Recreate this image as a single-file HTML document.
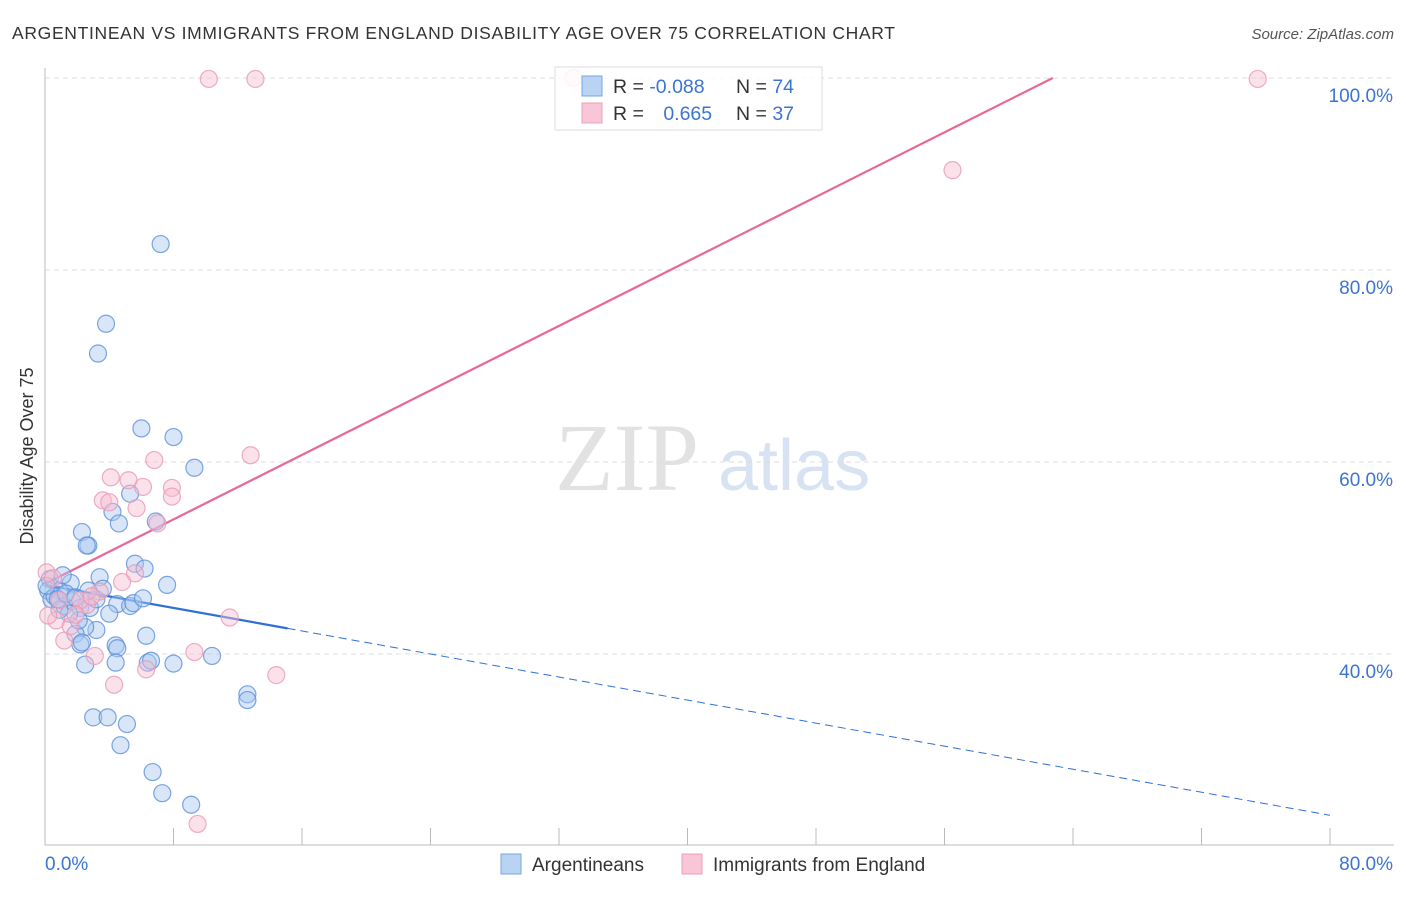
<!DOCTYPE html>
<html><head><meta charset="utf-8"><style>
body{margin:0;background:#fff;font-family:"Liberation Sans",sans-serif}
svg text{font-family:"Liberation Sans",sans-serif}
</style></head><body>
<svg width="1406" height="892" viewBox="0 0 1406 892" id="chart">
<text x="12" y="39" font-size="17.5" fill="#333" textLength="883" lengthAdjust="spacing">ARGENTINEAN VS IMMIGRANTS FROM ENGLAND DISABILITY AGE OVER 75 CORRELATION CHART</text>
<text x="1394" y="39" font-size="15" fill="#555" font-style="italic" text-anchor="end">Source: ZipAtlas.com</text>
<text x="33" y="456" font-size="18" fill="#333" text-anchor="middle" transform="rotate(-90 33 456)">Disability Age Over 75</text>
<g opacity="0.55">
<text x="555" y="490" font-size="96" fill="#ccc" font-family="Liberation Serif,serif" style="font-family:'Liberation Serif',serif">ZIP</text>
<text x="718" y="490" font-size="72" fill="#b8cdea">atlas</text>
</g>
<g id="grid"></g><g id="axes"></g><g id="lines"></g><g id="pts"></g>
<g>
<rect x="555" y="67" width="267" height="63" fill="#fff" fill-opacity="0.85" stroke="#ddd"/>
<rect x="582" y="76" width="20" height="20" fill="#b9d3f3" stroke="#7aa6e0"/>
<rect x="582" y="103" width="20" height="20" fill="#f8c6d6" stroke="#eba0b8"/>
<text x="613" y="93" font-size="19.5" fill="#333">R = <tspan fill="#3b74d1">-0.088</tspan></text>
<text x="736" y="93" font-size="19.5" fill="#333">N = <tspan fill="#3b74d1">74</tspan></text>
<text x="613" y="120" font-size="19.5" fill="#333">R = <tspan fill="#3b74d1" dx="14">0.665</tspan></text>
<text x="736" y="120" font-size="19.5" fill="#333">N = <tspan fill="#3b74d1">37</tspan></text>
</g>
<g>
<rect x="501" y="854" width="20" height="20" fill="#b9d3f3" stroke="#7aa6e0"/>
<text x="532" y="871" font-size="19" fill="#333">Argentineans</text>
<rect x="682" y="854" width="20" height="20" fill="#f8c6d6" stroke="#eba0b8"/>
<text x="713" y="871" font-size="19" fill="#333">Immigrants from England</text>
</g>
</svg>
<script>
const xTicks=[0,80];
const yTicks=[40,60,80,100];
const blueX=[7.2,3.8,3.3,6.0,8.0,9.3,5.3,4.2,4.6,6.9,2.3,2.7,2.6,5.6,6.2,7.6,3.4,1.6,0.3,0.9,1.1,0.2,0.4,0.6,1.2,1.7,2.2,2.8,3.2,3.6,4.5,5.3,5.5,6.1,4.0,3.2,2.5,1.9,2.1,1.5,2.2,2.3,4.4,4.5,6.3,6.4,6.6,8.0,10.4,2.5,4.4,12.6,12.6,3.0,3.9,5.1,4.7,6.7,7.3,9.1,0.9,0.8,0.1,1.3,2.7,1.9];
const blueY=[82.7,74.4,71.3,63.5,62.6,59.4,56.7,54.8,53.6,53.8,52.7,51.3,51.3,49.4,48.9,47.2,48.0,47.4,47.8,46.6,48.2,46.6,45.7,46.0,45.0,45.5,44.8,44.8,45.7,46.8,45.2,45.0,45.3,45.8,44.2,42.5,42.8,42.1,43.5,44.2,41.0,41.2,40.9,40.6,41.9,39.1,39.3,39.0,39.8,38.9,39.1,35.8,35.2,33.4,33.4,32.7,30.5,27.7,25.5,24.3,44.6,45.7,47.1,46.3,46.6,45.9];
const pinkX=[10.2,13.1,32.9,75.5,56.5,12.8,6.8,4.1,5.2,6.1,7.9,3.6,4.0,5.7,7.0,7.9,5.6,4.8,3.4,2.6,0.7,0.2,1.2,1.6,3.1,4.3,6.3,9.3,11.5,14.4,9.5,0.1,0.9,2.2,2.9,0.5,1.9];
const pinkY=[99.9,99.9,100,99.9,90.4,60.7,60.2,58.4,58.1,57.4,57.3,56.0,55.8,55.2,53.6,56.4,48.4,47.5,46.5,45.1,43.5,44.0,41.4,42.9,39.8,36.8,38.4,40.2,43.8,37.8,22.3,48.5,45.6,45.6,46.0,47.9,44.1];
const blueLine=[47.2,23.2], blueSolidEnd=15.1;
const pinkLine=[47.3,0.84];
const NS='http://www.w3.org/2000/svg';
const X=v=>45+v*1285/80, Y=v=>1038-v*9.6;
function mk(tag,parent,attrs){const e=document.createElementNS(NS,tag);for(const k in attrs)e.setAttribute(k,attrs[k]);document.getElementById(parent).appendChild(e);return e;}
yTicks.forEach(t=>{
 const g=mk('line','grid',{x1:45,x2:1394,y1:Y(t),y2:Y(t),stroke:'#ddd','stroke-dasharray':'5,4'});
 
 
 const tx=mk('text','axes',{x:1393,y:Y(t)+24,'font-size':19,fill:'#3b74d1','text-anchor':'end'});
 tx.textContent=t.toFixed(1)+'%';
 
 
});
const ax=mk('line','axes',{x1:45,x2:45,y1:68,y2:845,stroke:'#bbb'});


const bx=mk('line','axes',{x1:45,x2:1394,y1:845,y2:845,stroke:'#bbb'});


for(let i=0;i<=10;i++){const t=mk('line','axes',{x1:X(i*8),x2:X(i*8),y1:828,y2:845,stroke:'#bbb'});
 
 }
xTicks.forEach((t,i)=>{const tx=mk('text','axes',{x:i?1393:45,y:870,'font-size':19,fill:'#3b74d1','text-anchor':i?'end':'start'});
 tx.textContent=t.toFixed(1)+'%';
 
 });
function pts(xs,ys,fill,stroke,name){xs.forEach((x,i)=>{const c=mk('circle','pts',{cx:X(x),cy:Y(ys[i]),r:8.5,fill:fill,'fill-opacity':0.45,stroke:stroke,'stroke-width':1.2,'stroke-opacity':0.8});
 
 });}
pts(blueX,blueY,'#a9c8f0','#5b8fdc','point-argentinean');
pts(pinkX,pinkY,'#f7bcd0','#ea98b3','point-immigrant-england');
const bl=(x)=>blueLine[0]+(blueLine[1]-blueLine[0])*x/80;
const l1=mk('line','lines',{x1:X(0),y1:Y(bl(0)),x2:X(blueSolidEnd),y2:Y(bl(blueSolidEnd)),stroke:'#2f6fd6','stroke-width':2.2});


const l2=mk('line','lines',{x1:X(blueSolidEnd),y1:Y(bl(blueSolidEnd)),x2:X(80),y2:Y(bl(80)),stroke:'#2f6fd6','stroke-width':1,'stroke-dasharray':'8,5'});


const pxEnd=(100-pinkLine[0])/pinkLine[1];
const l3=mk('line','lines',{x1:X(0),y1:Y(pinkLine[0]),x2:X(pxEnd),y2:Y(100),stroke:'#e8679a','stroke-width':2.2});


</script>
</body></html>
